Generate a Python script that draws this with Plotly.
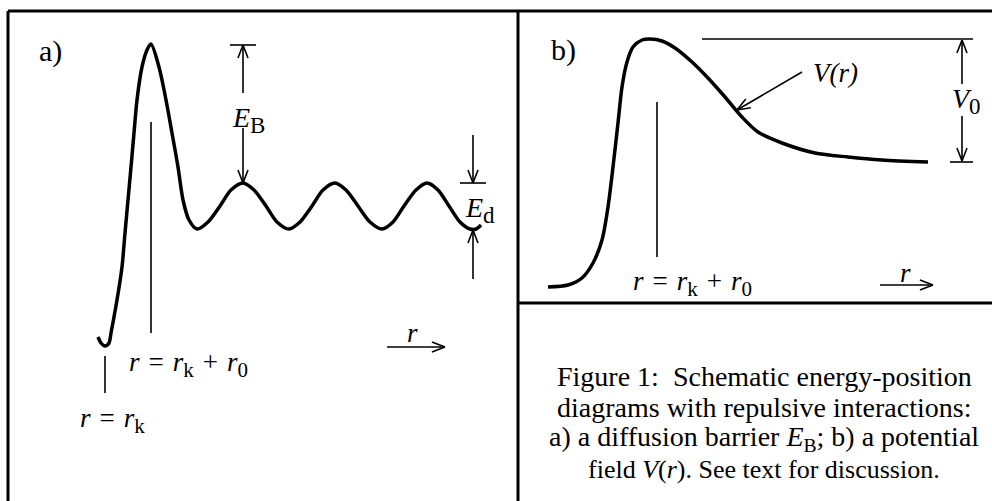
import math
import plotly.graph_objects as go

W, H = 992, 501

# ---------------- data (x to the right, y downward) -------------
# Panel a) energy curve with diffusion barrier
curve_a_x = [98, 101, 105, 109, 111, 117, 122, 125, 128, 131, 134, 137, 142, 147, 151,
             159, 166, 172, 178, 183, 189, 197, 208, 220, 231, 243, 254, 266, 277, 289,
             300, 312, 323, 335, 346, 358, 370, 382, 393, 404, 416, 427, 438, 449, 460,
             470, 476, 481]
curve_a_y = [337, 343, 346, 343, 333, 300, 267, 233, 200, 167, 133, 100, 67, 50, 44,
             67, 100, 133, 167, 200, 220, 229, 222, 206, 190, 183, 190, 206, 222, 229,
             222, 206, 190, 183, 190, 206, 222, 229, 222, 206, 190, 183, 190, 206, 222,
             229, 229, 225]

# Panel b) potential field V(r)
curve_b_x = [548, 568, 582, 593, 602, 608, 613, 618, 622, 627, 633, 642, 650, 662, 675,
             692, 708, 725, 742, 758, 782, 815, 848, 882, 928]
curve_b_y = [287, 285, 278, 263, 240, 207, 167, 123, 87, 62, 47, 40, 39, 41, 48,
             62, 78, 97, 117, 132, 143, 153, 157, 160, 162]

# plain guide lines: (x0, y0, x1, y1)
guide_lines = [
    (230, 45, 256, 45),      # E_B top bar
    (460, 183, 486, 183),    # E_d bar
    (151, 122, 151, 333),    # r = rk + r0 marker (a)
    (105, 356, 105, 393),    # r = rk marker
    (702, 39, 973, 39),      # V0 top level
    (950, 162, 973, 162),    # V0 bottom tick
    (657, 102, 657, 257),    # r = rk + r0 marker (b)
]

# arrows: (tail x, tail y, head x, head y)
arrows = [
    (243, 93, 243, 45),      # E_B up
    (243, 128, 243, 183),    # E_B down
    (473, 135, 473, 183),    # E_d down
    (473, 279, 473, 230),    # E_d up
    (387, 347, 445, 347),    # r direction (a)
    (962, 84, 962, 40),      # V0 up
    (962, 116, 962, 161),    # V0 down
    (802, 72, 737, 110),     # V(r) pointer
    (880, 285, 933, 285),    # r direction (b)
]

# frame lines: (x0, y0, x1, y1)
frame_lines = [
    (8, 11, 992, 11),
    (8, 11, 8, 501),
    (518, 11, 518, 501),
    (518, 303, 992, 303),
]


def sub(t, size=21):
    return f'<sub><span style="font-size:{size}px">{t}</span></sub>'


SP = "\u2004"  # math-style spacing around relation signs
rk_r0 = f"<i>r</i>{SP}={SP}<i>r</i>{sub('k')}{SP}+{SP}<i>r</i>{sub('0')}"
rk = f"<i>r</i>{SP}={SP}<i>r</i>{sub('k')}"

# text labels: (x, y, text, size)
labels = [
    (50, 51, "a)", 30),
    (563, 50, "b)", 30),
    (248, 120, f"<i>E</i>{sub('B', 23)}", 28),
    (480, 210, f"<i>E</i>{sub('d', 23)}", 28),
    (188, 364, rk_r0, 27),
    (112, 420, rk, 27),
    (412, 333, "<i>r</i>", 27),
    (692, 283, rk_r0, 27),
    (905, 273, "<i>r</i>", 27),
    (835, 73, "<i>V(r)</i>", 27),
    (966, 101, f"<i>V</i>{sub('0', 23)}", 28),
]

caption_lines = [
    "Figure 1:  Schematic energy-position",
    "diagrams with repulsive interactions:",
    "a) a diffusion barrier <i>E</i><sub>B</sub>; b) a potential",
    "field <i>V</i>(<i>r</i>). See text for discussion.",
]
caption_x = 764
caption_y = [376, 407, 438, 469]
caption_size = [28, 28, 28, 26]

FONT = "Liberation Serif, Times New Roman, serif"

fig = go.Figure()

# curves
for cx, cy in ((curve_a_x, curve_a_y), (curve_b_x, curve_b_y)):
    fig.add_trace(go.Scatter(x=cx, y=cy, mode="lines",
                             line=dict(color="black", width=3.5, shape="spline", smoothing=0.8),
                             hoverinfo="skip"))

# guide lines
gx, gy = [], []
for x0, y0, x1, y1 in guide_lines:
    gx += [x0, x1, None]
    gy += [y0, y1, None]
fig.add_trace(go.Scatter(x=gx, y=gy, mode="lines",
                         line=dict(color="black", width=1.6), hoverinfo="skip"))

# arrows with open V heads
ax, ay = [], []
hx, hy = [], []
L, ang = 14, math.radians(21)
for x0, y0, x1, y1 in arrows:
    ax += [x0, x1, None]
    ay += [y0, y1, None]
    d = math.hypot(x0 - x1, y0 - y1)
    ux, uy = (x0 - x1) / d, (y0 - y1) / d
    for s in (1, -1):
        c, sn = math.cos(s * ang), math.sin(s * ang)
        vx, vy = ux * c - uy * sn, ux * sn + uy * c
        hx += [x1 + L * vx, x1, None]
        hy += [y1 + L * vy, y1, None]
fig.add_trace(go.Scatter(x=ax, y=ay, mode="lines",
                         line=dict(color="black", width=1.6), hoverinfo="skip"))
fig.add_trace(go.Scatter(x=hx, y=hy, mode="lines",
                         line=dict(color="black", width=1.6), hoverinfo="skip"))

# frame
fx, fy = [], []
for x0, y0, x1, y1 in frame_lines:
    fx += [x0, x1, None]
    fy += [y0, y1, None]
fig.add_trace(go.Scatter(x=fx, y=fy, mode="lines",
                         line=dict(color="black", width=3), hoverinfo="skip"))

for x, y, t, s in labels:
    fig.add_annotation(x=x, y=y, text=t, showarrow=False, xanchor="center", yanchor="middle",
                       font=dict(family=FONT, size=s, color="black"))

for t, y, s in zip(caption_lines, caption_y, caption_size):
    fig.add_annotation(x=caption_x, y=y, text=t, showarrow=False, xanchor="center",
                       yanchor="middle", font=dict(family=FONT, size=s, color="black"))

fig.update_layout(
    width=W, height=H, margin=dict(l=0, r=0, t=0, b=0),
    paper_bgcolor="white", plot_bgcolor="white", showlegend=False,
    xaxis=dict(range=[0, W], visible=False, fixedrange=True),
    yaxis=dict(range=[H, 0], visible=False, fixedrange=True),
)

fig.write_html("out.html")
